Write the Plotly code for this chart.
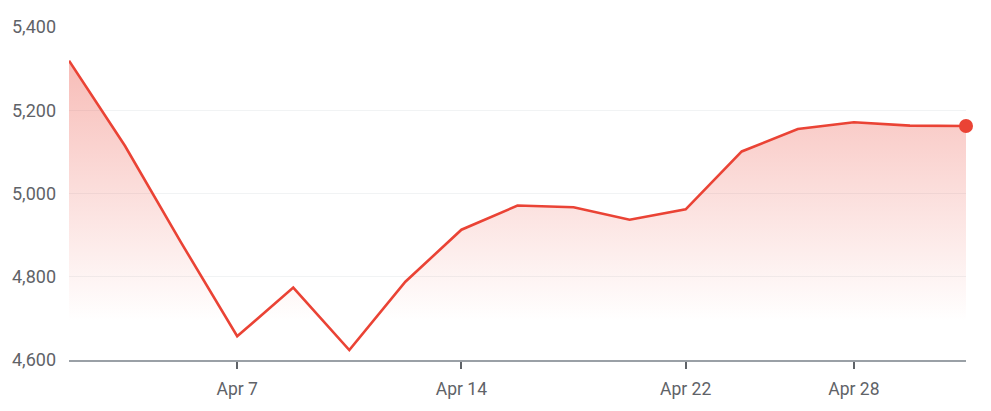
import plotly.graph_objects as go

# ─── Data ─────────────────────────────────────────────────────────────────────

dates = ["Apr 2", "Apr 3", "Apr 4", "Apr 7", "Apr 8", "Apr 9", "Apr 11",
         "Apr 14", "Apr 15", "Apr 16", "Apr 17", "Apr 22", "Apr 24",
         "Apr 25", "Apr 28", "Apr 29", "Apr 30"]
values = [5319, 5114, 4882, 4657, 4774, 4624, 4788,
          4913, 4971, 4967, 4937, 4962, 5101,
          5155, 5171, 5163, 5162]

tick_dates = ["Apr 7", "Apr 14", "Apr 22", "Apr 28"]
y_ticks = [4600, 4800, 5000, 5200, 5400]

RED = "#EA4335"
GREY = "#5f6368"

fig = go.Figure()

fig.add_trace(go.Scatter(
    x=dates, y=values,
    mode="lines",
    line=dict(color=RED, width=2.6),
    fill="tozeroy",
    fillgradient=dict(
        type="vertical",
        start=4700, stop=5330,
        colorscale=[[0, "rgba(234,67,53,0)"], [1, "rgba(234,67,53,0.36)"]],
    ),
    hoverinfo="skip",
))

# last point marker
fig.add_trace(go.Scatter(
    x=dates[-1:], y=values[-1:],
    mode="markers",
    marker=dict(color=RED, size=14),
    cliponaxis=False,
    hoverinfo="skip",
))

fig.update_layout(
    width=991, height=411,
    margin=dict(l=65, r=25, t=27, b=48),
    paper_bgcolor="white",
    plot_bgcolor="white",
    showlegend=False,
    font=dict(family="Roboto", size=17, color=GREY),
)
fig.update_xaxes(
    type="category",
    range=[0, len(dates) - 1],
    tickmode="array",
    tickvals=tick_dates,
    ticktext=tick_dates,
    showgrid=False,
    showline=True, linecolor="#9aa0a6", linewidth=2,
    ticks="outside", ticklen=7, tickwidth=2, tickcolor=GREY,
    ticklabelstandoff=5,
    tickfont=dict(size=17.5, color=GREY),
    fixedrange=True,
)
fig.update_yaxes(
    range=[4600, 5400],
    tickvals=y_ticks,
    tickformat=",",
    showgrid=True, gridcolor="#f1f3f4", gridwidth=1,
    zeroline=False,
    ticks="", ticklabelstandoff=12,
    tickfont=dict(size=18, color=GREY),
    fixedrange=True,
)

# page body has a default 8px margin; drop it so the figure sits at 0,0
fig.write_html("out.html", config={"displayModeBar": False},
               post_script="document.body.style.margin='0';")
